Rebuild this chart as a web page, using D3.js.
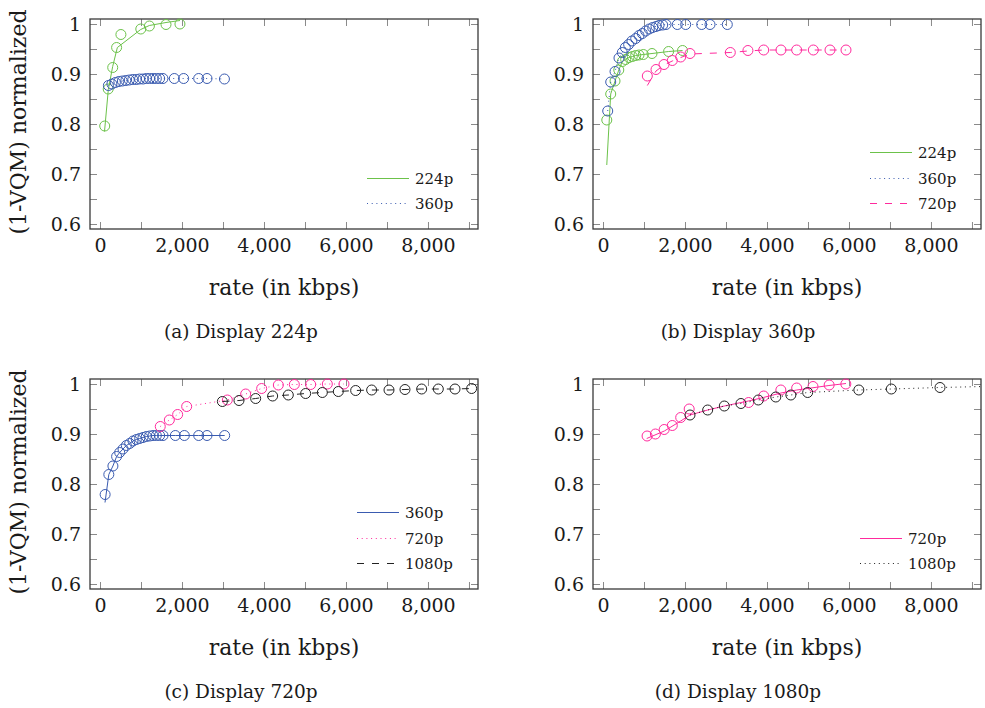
<!DOCTYPE html>
<html>
<head>
<meta charset="utf-8">
<script src="https://cdn.jsdelivr.net/npm/d3@7"></script>
<style>
  body { margin: 0; background: #fff; }
  text { font-family: "DejaVu Serif", serif; fill: #1a1a1a; }
</style>
</head>
<body>
<svg id="chart" width="985" height="708"></svg>
<script>
// tick values
var xTicks = [0, 1000, 2000, 3000, 4000, 5000, 6000, 7000, 8000, 9000];
var yTicks = [0.6, 0.65, 0.7, 0.75, 0.8, 0.85, 0.9, 0.95, 1];

// (a) Display 224p
var a224Rates = [115, 200, 310, 405, 510, 995, 1205, 1610, 1950];
var a224Vals  = [0.796, 0.870, 0.913, 0.953, 0.979, 0.990, 0.996, 0.999, 1.000];
var a224LineRates = [110, 203, 309, 423, 992, 1203, 1610, 1951];
var a224LineVals  = [0.785, 0.869, 0.915, 0.953, 0.989, 0.997, 1.003, 1.007];
var a360Rates = [205, 290, 375, 460, 545, 630, 715, 800, 885, 965, 1050, 1130, 1210, 1295, 1375, 1455, 1535, 1812, 2040, 2407, 2610, 3035];
var a360Vals  = [0.877, 0.880, 0.883, 0.885, 0.886, 0.887, 0.888, 0.889, 0.889, 0.890, 0.890, 0.891, 0.891, 0.891, 0.891, 0.891, 0.891, 0.891, 0.891, 0.891, 0.891, 0.890];

// (b) Display 360p
var b224Rates = [92, 188, 293, 385, 471, 553, 634, 715, 797, 878, 984, 1195, 1600, 1940];
var b224Vals  = [0.808, 0.860, 0.886, 0.908, 0.925, 0.929, 0.933, 0.935, 0.937, 0.938, 0.939, 0.941, 0.945, 0.947];
var b224LineRates = [92, 188, 293, 385, 471, 553, 634, 715, 797, 878, 984, 1195, 1600, 1940];
var b224LineVals  = [0.718, 0.860, 0.886, 0.908, 0.925, 0.929, 0.933, 0.935, 0.937, 0.938, 0.939, 0.941, 0.945, 0.947];
var b360Rates = [115, 188, 293, 390, 471, 545, 625, 705, 798, 878, 959, 1041, 1129, 1212, 1293, 1366, 1456, 1537, 1812, 2017, 2407, 2610, 3032];
var b360Vals  = [0.826, 0.884, 0.905, 0.932, 0.943, 0.953, 0.959, 0.966, 0.971, 0.977, 0.981, 0.986, 0.990, 0.993, 0.995, 0.997, 0.998, 0.999, 0.999, 0.999, 0.999, 0.999, 0.999];
var b720Rates = [1081, 1293, 1488, 1690, 1895, 2122, 3105, 3535, 3920, 4341, 4724, 5130, 5537, 5927];
var b720Vals  = [0.896, 0.909, 0.919, 0.927, 0.934, 0.941, 0.943, 0.947, 0.948, 0.948, 0.948, 0.948, 0.948, 0.948];
var b720LineRates = [1081, 1293, 1488, 1690, 1895, 2122, 3105, 3535, 3920, 4341, 4724, 5130, 5537, 5927];
var b720LineVals  = [0.877, 0.906, 0.918, 0.926, 0.933, 0.940, 0.943, 0.946, 0.948, 0.948, 0.948, 0.948, 0.948, 0.948];

// (c) Display 720p
var c360Rates = [125, 215, 315, 405, 480, 561, 642, 724, 805, 886, 968, 1049, 1130, 1211, 1293, 1374, 1455, 1537, 1837, 2057, 2407, 2610, 3041];
var c360Vals  = [0.779, 0.819, 0.836, 0.855, 0.863, 0.870, 0.877, 0.881, 0.886, 0.889, 0.891, 0.893, 0.895, 0.896, 0.897, 0.897, 0.897, 0.897, 0.897, 0.897, 0.897, 0.897, 0.897];
var c360LineRates = [122, 215, 315, 405, 480, 561, 642, 724, 805, 886, 968, 1049, 1130, 1211, 1293, 1374, 1455, 1537, 1837, 2057, 2407, 2610, 3041];
var c360LineVals  = [0.763, 0.819, 0.836, 0.855, 0.863, 0.870, 0.877, 0.881, 0.886, 0.889, 0.891, 0.893, 0.895, 0.896, 0.897, 0.897, 0.897, 0.897, 0.897, 0.897, 0.897, 0.897, 0.897];
var c720Rates = [1470, 1691, 1894, 2114, 3106, 3553, 3943, 4350, 4740, 5139, 5545, 5951];
var c720Vals  = [0.915, 0.928, 0.939, 0.955, 0.968, 0.980, 0.991, 0.998, 0.999, 0.999, 1.000, 1.000];
var c1080Rates = [2985, 3390, 3797, 4211, 4593, 5016, 5423, 5813, 6236, 6626, 7049, 7439, 7846, 8252, 8659, 9065];
var c1080Vals  = [0.965, 0.967, 0.971, 0.976, 0.978, 0.981, 0.983, 0.985, 0.987, 0.988, 0.988, 0.989, 0.990, 0.990, 0.990, 0.991];

// (d) Display 1080p
var d720Rates = [1075, 1278, 1492, 1690, 1895, 2102, 3552, 3920, 4338, 4724, 5122, 5516, 5923];
var d720Vals  = [0.896, 0.900, 0.909, 0.917, 0.933, 0.950, 0.963, 0.976, 0.988, 0.992, 0.995, 0.998, 1.000];
var d720LineRates = [1066, 1496, 1895, 2122, 2553, 2959, 3544, 3911, 4341, 4724, 5512, 5927];
var d720LineVals  = [0.891, 0.906, 0.926, 0.938, 0.948, 0.956, 0.966, 0.973, 0.982, 0.988, 0.997, 1.001];
var d1080Rates = [2122, 2553, 2959, 3365, 3788, 4215, 4582, 4992, 6240, 7032, 8220];
var d1080Vals  = [0.938, 0.948, 0.956, 0.961, 0.968, 0.974, 0.978, 0.983, 0.988, 0.990, 0.993];
var d1080LineRates = [2122, 2553, 2959, 3365, 3788, 4215, 4582, 4992, 6240, 7032, 8220, 9300];
var d1080LineVals  = [0.938, 0.948, 0.956, 0.961, 0.968, 0.974, 0.978, 0.983, 0.988, 0.990, 0.993, 0.995];

var GREEN = "#6cc24a", BLUE = "#3a5bb0", PINK = "#ff2a9d", BLACK = "#222222";
var SOLID = null, DOTTED = "1,3.7", DASHED = "7,8";

function series(name, color, dash, rates, vals, lineRates, lineVals) {
    return {
        name: name, color: color, dash: dash,
        marks: rates.map(function(r, i) { return [r, vals[i]]; }),
        line: (lineRates || rates).map(function(r, i) { return [r, (lineVals || vals)[i]]; })
    };
}

var panels = [
    {caption: "(a) Display 224p", left: 90, top: 19, yLabel: true, capX: 241,
     series: [series("224p", GREEN, SOLID, a224Rates, a224Vals, a224LineRates, a224LineVals),
              series("360p", BLUE, DOTTED, a360Rates, a360Vals)]},
    {caption: "(b) Display 360p", left: 593, top: 19, yLabel: false, capX: 738,
     series: [series("224p", GREEN, SOLID, b224Rates, b224Vals, b224LineRates, b224LineVals),
              series("360p", BLUE, DOTTED, b360Rates, b360Vals),
              series("720p", PINK, DASHED, b720Rates, b720Vals, b720LineRates, b720LineVals)]},
    {caption: "(c) Display 720p", left: 90, top: 379, yLabel: true, capX: 241,
     series: [series("360p", BLUE, SOLID, c360Rates, c360Vals, c360LineRates, c360LineVals),
              series("720p", PINK, DOTTED, c720Rates, c720Vals),
              series("1080p", BLACK, DASHED, c1080Rates, c1080Vals)]},
    {caption: "(d) Display 1080p", left: 593, top: 379, yLabel: false, capX: 738,
     series: [series("720p", PINK, SOLID, d720Rates, d720Vals, d720LineRates, d720LineVals),
              series("1080p", BLACK, DOTTED, d1080Rates, d1080Vals, d1080LineRates, d1080LineVals)]}
];

var svg = d3.select("#chart");
var W = 388, H = 210;
var fmt = d3.format(",");

panels.forEach(function(p, idx) {
    var x = d3.scaleLinear().domain([-244, 9220]).range([p.left, p.left + W]);
    var y = d3.scaleLinear().domain([0.59, 1.01]).range([p.top + H, p.top]);
    var g = svg.append("g");

    // clip for lines
    var clipId = "clip" + idx;
    svg.append("clipPath").attr("id", clipId).append("rect")
        .attr("x", p.left).attr("y", p.top).attr("width", W).attr("height", H);

    // axes (ticks point inward on all four sides)
    var yFmt = function(d) {
        var k = Math.round(d * 100);
        if (k % 10 !== 0) return "";
        return k === 100 ? "1" : d.toFixed(1);
    };
    var bottom = g.append("g").attr("transform", "translate(0," + (p.top + H) + ")")
        .call(d3.axisBottom(x).tickValues(xTicks).tickSize(-7).tickPadding(10)
            .tickFormat(function(d) { return d % 2000 === 0 ? fmt(d) : ""; }));
    var topAx = g.append("g").attr("transform", "translate(0," + p.top + ")")
        .call(d3.axisTop(x).tickValues(xTicks).tickSize(-7).tickFormat(""));
    var leftAx = g.append("g").attr("transform", "translate(" + p.left + ",0)")
        .call(d3.axisLeft(y).tickValues(yTicks).tickSize(-7).tickPadding(9).tickFormat(yFmt));
    var rightAx = g.append("g").attr("transform", "translate(" + (p.left + W) + ",0)")
        .call(d3.axisRight(y).tickValues(yTicks).tickSize(-7).tickFormat(""));
    [bottom, topAx, leftAx, rightAx].forEach(function(a) {
        a.select(".domain").remove();
        a.selectAll(".tick line").attr("stroke", "#8a8a8a").attr("stroke-width", 1);
        a.selectAll("text").attr("font-size", 19).attr("font-family", "DejaVu Serif").attr("fill", "#1a1a1a");
    });

    // frame
    g.append("rect").attr("x", p.left).attr("y", p.top).attr("width", W).attr("height", H)
        .attr("fill", "none").attr("stroke", "#3a3a3a").attr("stroke-width", 1.3);

    // series
    var line = d3.line().x(function(d) { return x(d[0]); }).y(function(d) { return y(d[1]); });
    p.series.forEach(function(s) {
        g.append("path").datum(s.line)
            .attr("d", line)
            .attr("clip-path", "url(#" + clipId + ")")
            .attr("fill", "none")
            .attr("stroke", s.color)
            .attr("stroke-width", 1)
            .attr("stroke-dasharray", s.dash);
        g.selectAll(null).data(s.marks).enter().append("circle")
            .attr("cx", function(d) { return x(d[0]); })
            .attr("cy", function(d) { return y(d[1]); })
            .attr("r", 5)
            .attr("fill", "none")
            .attr("stroke", s.color)
            .attr("stroke-width", 1);
    });

    // legend (bottom right, no box)
    var n = p.series.length;
    var texts = p.series.map(function(s) {
        return g.append("text").attr("font-size", 15).text(s.name);
    });
    var maxW = d3.max(texts, function(t) { return t.node().getComputedTextLength(); });
    var tx = Math.round(p.left + W - 25 - maxW);
    p.series.forEach(function(s, i) {
        var ry = Math.round(p.top + H - 26 - (n - 1 - i) * 25.5) + 0.5;
        texts[i].attr("x", tx).attr("y", ry + 5);
        g.append("line").attr("x1", tx - 48).attr("x2", tx - 6).attr("y1", ry).attr("y2", ry)
            .attr("stroke", s.color).attr("stroke-width", 1.2).attr("stroke-dasharray", s.dash);
    });

    // axis labels
    g.append("text").attr("x", p.left + W / 2).attr("y", p.top + H + 66)
        .attr("text-anchor", "middle").attr("font-size", 22).text("rate (in kbps)");
    if (p.yLabel) {
        g.append("text").attr("transform", "translate(26," + (p.top + 103) + ") rotate(-90)")
            .attr("text-anchor", "middle").attr("font-size", 22).text("(1-VQM) normalized");
    }

    // caption
    g.append("text").attr("x", p.capX).attr("y", p.top + H + 109)
        .attr("text-anchor", "middle").attr("font-size", 18.5).text(p.caption);
});
</script>
</body>
</html>
